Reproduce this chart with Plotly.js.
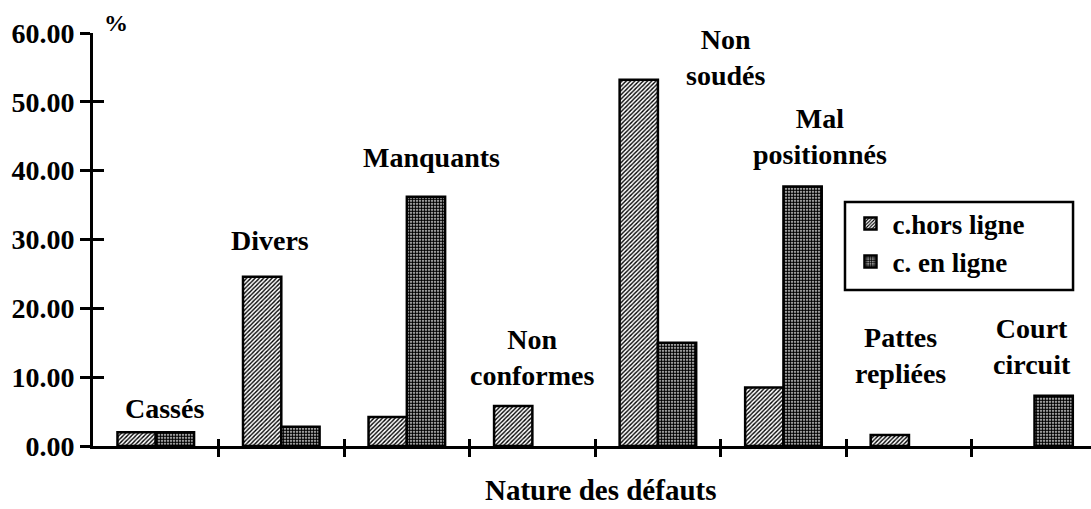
<!DOCTYPE html>
<html>
<head>
<meta charset="utf-8">
<script src="https://cdn.plot.ly/plotly-3.0.1.min.js"></script>
<style>html,body{margin:0;padding:0;background:#fff;}#chart{width:1091px;height:509px;}</style>
</head>
<body>
<div id="chart"></div>
<script>
// ---- data ----
const categories = ["Cassés", "Divers", "Manquants", "Non conformes", "Non soudés", "Mal positionnés", "Pattes repliées", "Court circuit"];
const categoryLabels = ["Cassés", "Divers", "Manquants", "Non<br>conformes", "Non<br>soudés", "Mal<br>positionnés", "Pattes<br>repliées", "Court<br>circuit"];
const horsLigne = [2.0, 24.6, 4.2, 5.8, 53.2, 8.5, 1.6, null];
const enLigne = [2.0, 2.8, 36.2, null, 15.0, 37.7, null, 7.3];
const seriesNames = ["c.hors ligne", "c. en ligne"];
const yTicks = [0, 10, 20, 30, 40, 50, 60];

// ---- layout helpers (positions of the labels) ----
const labelX = [0.07, 0.91, 2.2, 3.0, 4.54, 5.29, 5.93, 6.98];
const labelY = [5.5, 29.9, 41.9, 12.8, 56.5, 44.9, 13.2, 14.5];

const idx = categories.map((c, i) => i);
const FONT = "Liberation Serif";

const traces = [
  {
    type: "bar", x: idx, y: horsLigne, name: seriesNames[0],
    marker: {color: "white", line: {color: "black", width: 2.5},
      pattern: {shape: "/", size: 3, solidity: 0.45, fgcolor: "black", bgcolor: "white"}},
    hoverinfo: "none"
  },
  {
    type: "bar", x: idx, y: enLigne, name: seriesNames[1],
    marker: {color: "white", line: {color: "black", width: 2.5},
      pattern: {shape: ".", size: 3, solidity: 0.7, fgcolor: "black", bgcolor: "white"}},
    hoverinfo: "none"
  },
  // invisible trace on overlay axes to draw inner tick marks
  {type: "scatter", x: [0], y: [0], xaxis: "x2", yaxis: "y2", mode: "none", showlegend: false, hoverinfo: "none"}
];

const annotations = categoryLabels.map((t, i) => ({
  text: t, x: labelX[i], y: labelY[i], xref: "x", yref: "y",
  showarrow: false, xanchor: "center", yanchor: "middle",
  font: {family: FONT, size: 28, color: "black", weight: "bold"}
}));
annotations.push({
  text: "%", xref: "paper", yref: "paper", x: 0.023, y: 1.024, showarrow: false,
  xanchor: "center", yanchor: "middle",
  font: {family: FONT, size: 24, color: "black", weight: "bold"}
});
annotations.push({
  text: "Nature des défauts", xref: "paper", yref: "paper", x: 0.509, y: -0.107, showarrow: false,
  xanchor: "center", yanchor: "middle",
  font: {family: FONT, size: 29, color: "black", weight: "bold"}
});

const xTickVals = [0.5, 1.5, 2.5, 3.5, 4.5, 5.5, 6.5];
const layout = {
  width: 1091, height: 509,
  margin: {l: 93, r: 0, t: 33, b: 63, pad: 0},
  paper_bgcolor: "white", plot_bgcolor: "white",
  barmode: "group", bargap: 0.39, bargroupgap: 0,
  showlegend: true,
  legend: {
    x: 0.757, y: 0.597, xanchor: "left", yanchor: "top",
    borderwidth: 0, bgcolor: "rgba(0,0,0,0)",
    font: {family: FONT, size: 27, color: "black", weight: "bold"},
    itemwidth: 34
  },
  shapes: [{
    type: "rect", xref: "paper", yref: "paper",
    x0: 0.7535, x1: 0.982, y0: 0.378, y1: 0.591,
    line: {color: "black", width: 2.5}, fillcolor: "rgba(0,0,0,0)", layer: "below"
  }],
  xaxis: {
    range: [-0.5, 7.45], showgrid: false, zeroline: false,
    showline: true, linecolor: "black", linewidth: 3,
    tickmode: "array", tickvals: xTickVals, ticktext: xTickVals.map(() => ""),
    ticks: "outside", ticklen: 8, tickwidth: 3, tickcolor: "black"
  },
  xaxis2: {
    overlaying: "x", range: [-0.5, 7.45], showgrid: false, zeroline: false, showline: false,
    tickmode: "array", tickvals: xTickVals, ticktext: xTickVals.map(() => ""),
    ticks: "inside", ticklen: 7, tickwidth: 3, tickcolor: "black", side: "bottom", anchor: "y2"
  },
  yaxis: {
    range: [0, 60], showgrid: false, zeroline: false,
    showline: true, linecolor: "black", linewidth: 3,
    tickmode: "array", tickvals: yTicks, ticktext: yTicks.map(v => v.toFixed(2)),
    ticks: "outside", ticklen: 10, tickwidth: 3, tickcolor: "black",
    ticklabelstandoff: 0,
    tickfont: {family: FONT, size: 28, color: "black", weight: "bold"}
  },
  yaxis2: {
    overlaying: "y", range: [0, 60], showgrid: false, zeroline: false, showline: false,
    tickmode: "array", tickvals: yTicks, ticktext: yTicks.map(() => ""),
    ticks: "inside", ticklen: 11, tickwidth: 3, tickcolor: "black", anchor: "x2"
  },
  annotations: annotations
};

Plotly.newPlot("chart", traces, layout, {staticPlot: true, displayModeBar: false});
</script>
</body>
</html>
